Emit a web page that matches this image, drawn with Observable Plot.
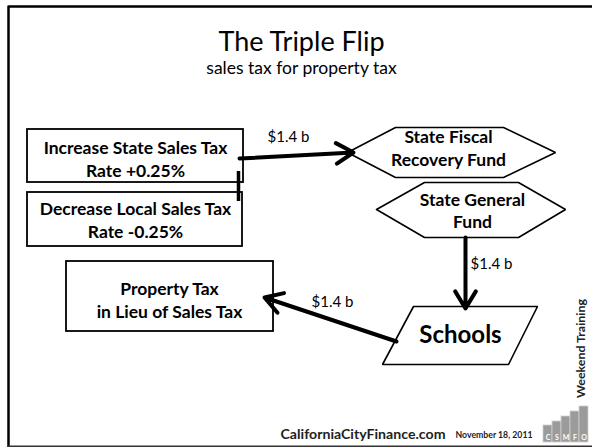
<!DOCTYPE html>
<html><head><meta charset="utf-8">
<script src="https://cdn.jsdelivr.net/npm/d3@7"></script>
<script src="https://cdn.jsdelivr.net/npm/@observablehq/plot@0.6"></script>
<style>body{margin:0;background:#fff}#chart svg{display:block}</style>
</head><body><div id="chart"></div>
<script>
// ---- content ----
const title = "The Triple Flip";
const subtitle = "sales tax for property tax";
const boxLabels = ["Increase State Sales Tax\nRate +0.25%", "Decrease Local Sales Tax\nRate -0.25%", "Property Tax\nin Lieu of Sales Tax"];
const fundLabels = ["State Fiscal\nRecovery Fund", "State General\nFund"];
const destLabel = "Schools";
const flowAmounts = [1.4, 1.4, 1.4];
const flowLabels = flowAmounts.map(v => `$${v} b`);
const footerLabels = ["CaliforniaCityFinance.com", "November 18, 2011"];
const sideLabel = "Weekend Training";
const logoLetters = ["C", "S", "M", "F", "O"];

// ---- layout (diagram coordinates, px) ----
const boxLayout = [
  {x1: 27, x2: 243, y1: 129, y2: 182, cx: 135, cy: 158},
  {x1: 27, x2: 242, y1: 192, y2: 246, cx: 135, cy: 218.5},
  {x1: 66, x2: 273, y1: 261, y2: 331, cx: 169, cy: 299}
];
const fundLayout = [
  {pts: [[347,152],[395,127],[503,127],[555,152],[503,177],[395,177],[347,152]], cx: 448, cy: 147},
  {pts: [[376,209],[424,182],[518,182],[565,209],[518,237],[424,237],[376,209]], cx: 472, cy: 209.5}
];
const destLayout = {pts: [[413,306],[537,306],[508,364],[382,364],[413,306]], cx: 460, cy: 335};
const flowLayout = [
  {x1: 239, y1: 158, x2: 353, y2: 152, lx: 288, ly: 137},
  {x1: 465, y1: 237, x2: 465, y2: 308, lx: 491, ly: 264},
  {x1: 396, y1: 341, x2: 264, y2: 297, lx: 332, ly: 302}
];
const logoTops = [425, 421, 416, 411, 406];

// ---- build tables ----
const boxes = boxLabels.map((t, i) => ({text: t, ...boxLayout[i]}));
const funds = fundLabels.map((t, i) => ({text: t, ...fundLayout[i]}));
const polyPts = [
  ...funds.flatMap((f, i) => f.pts.map(([x, y]) => ({x, y, id: "f" + i}))),
  ...destLayout.pts.map(([x, y]) => ({x, y, id: "d"}))
];
const flows = flowLabels.map((t, i) => ({text: t, ...flowLayout[i]}));
const logo = logoLetters.map((c, i) => ({c, x1: 543 + i * 9, x2: 552 + i * 9, y1: logoTops[i], y2: 442}));
const frame = [{x: 592, y: 6}, {x: 8, y: 6}, {x: 8, y: 446}, {x: 592, y: 446}];

const font = "Lato, 'Open Sans', sans-serif";
const chart = Plot.plot({
  width: 592, height: 447, margin: 0,
  x: {domain: [0, 592], range: [0, 592], axis: null},
  y: {domain: [0, 447], range: [0, 447], axis: null},
  style: {fontFamily: font, background: "white", color: "black"},
  marks: [
    Plot.line(frame.slice(0, 3), {x: "x", y: "y", stroke: "black", strokeWidth: 2.5}),
    Plot.line(frame.slice(2), {x: "x", y: "y", stroke: "#333", strokeWidth: 2}),
    Plot.text([title], {x: 301, y: 42, text: d => d, fontSize: 27, fontFamily: font, fontWeight: 400}),
    Plot.text([subtitle], {x: 301, y: 68, text: d => d, fontSize: 17.5, fontFamily: font}),
    Plot.rect(boxes, {x1: "x1", x2: "x2", y1: "y1", y2: "y2", fill: "white", stroke: "black", strokeWidth: 1.8}),
    Plot.line(polyPts, {x: "x", y: "y", z: "id", stroke: "black", strokeWidth: 1.6, strokeLinejoin: "miter"}),
    Plot.ruleX([238], {y1: 171, y2: 201, stroke: "black", strokeWidth: 3.5}),
    Plot.arrow(flows, {x1: "x1", y1: "y1", x2: "x2", y2: "y2", stroke: "black", strokeWidth: 4, headLength: 7.5, headAngle: 62}),
    Plot.text(flows, {x: "lx", y: "ly", text: "text", fontSize: 15, fontFamily: font}),
    Plot.text(boxes, {x: "cx", y: "cy", text: "text", fontSize: 17.5, fontWeight: "bold", fontFamily: font, lineHeight: 1.3}),
    Plot.text(funds, {x: "cx", y: "cy", text: "text", fontSize: 17.5, fontWeight: "bold", fontFamily: font, lineHeight: 1.28}),
    Plot.text([destLabel], {x: destLayout.cx, y: destLayout.cy, text: d => d, fontSize: 24, fontWeight: "bold", fontFamily: font}),
    Plot.text([footerLabels[0]], {x: 280, y: 434, text: d => d, textAnchor: "start", fontSize: 14, fontWeight: "bold", fontFamily: font, fill: "#222"}),
    Plot.text([footerLabels[1]], {x: 455, y: 434, text: d => d, textAnchor: "start", fontSize: 10, fontWeight: "bold", fontFamily: font, fill: "#222"}),
    Plot.text([sideLabel], {x: 581, y: 348, text: d => d, rotate: -90, fontSize: 11, fontWeight: "bold", fontFamily: font, fill: "#222"}),
    Plot.rect(logo, {x1: "x1", x2: "x2", y1: "y1", y2: "y2", fill: "#9b9b9b", stroke: "#d0d0d0", strokeWidth: 0.8}),
    Plot.text(logo, {x: d => (d.x1 + d.x2) / 2, y: 437, text: "c", fill: "white", fontSize: 7, fontWeight: "bold", fontFamily: font})
  ]
});
document.getElementById("chart").append(chart);
// fit footer strings to the reference's widths (that font is narrower than Lato)
const fitWidths = new Map([[footerLabels[0], 165], [footerLabels[1], 77], [sideLabel, 99]]);
d3.select(chart).selectAll("text").each(function () {
  const w = fitWidths.get(this.textContent);
  if (w) d3.select(this).attr("textLength", w).attr("lengthAdjust", "spacingAndGlyphs");
});
</script>
</body></html>
